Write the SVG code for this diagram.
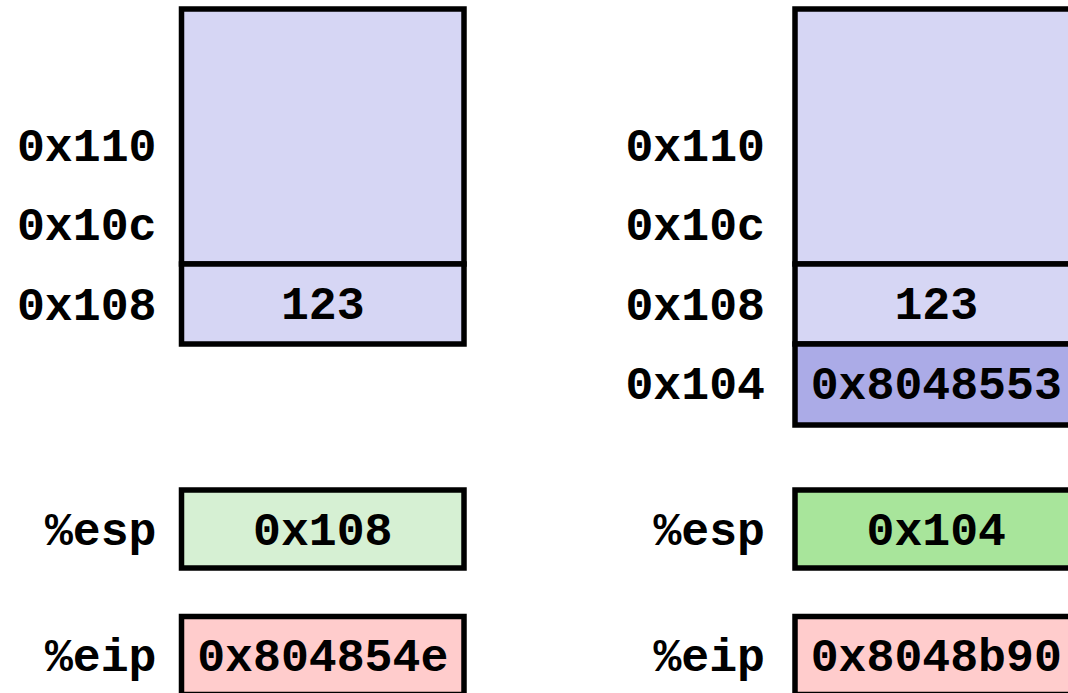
<svg xmlns="http://www.w3.org/2000/svg" width="1068" height="693" viewBox="0 0 1068 693">
<style>
.cell{stroke:#000;stroke-width:5.5}
.mem{fill:#D6D6F4}
.new{fill:#ABABE7}
.esp0{fill:#D6F0D3}
.esp1{fill:#A8E59B}
.eip{fill:#FFCCCC}
text{font-family:"Liberation Mono","Courier New",monospace;font-weight:bold;font-size:46.5px;fill:#000}
.lbl{text-anchor:end}
.val{text-anchor:middle}
</style>
<rect width="1068" height="693" fill="#fff"/>
<g id="left-stack">
  <rect class="cell mem" x="181.5" y="9" width="282.5" height="255"/>
  <rect class="cell mem" x="181.5" y="264" width="282.5" height="80"/>
  <text class="val" x="322.75" y="319">123</text>
</g>
<g id="left-labels">
  <text class="lbl" x="156.5" y="160.5">0x110</text>
  <text class="lbl" x="156.5" y="240">0x10c</text>
  <text class="lbl" x="156.5" y="319.5">0x108</text>
</g>
<g id="left-esp">
  <text class="lbl" x="156.5" y="544.5">%esp</text>
  <rect class="cell esp0" x="181.5" y="490" width="282.5" height="78"/>
  <text class="val" x="322.75" y="544.5">0x108</text>
</g>
<g id="left-eip">
  <text class="lbl" x="156.5" y="670.5">%eip</text>
  <rect class="cell eip" x="181.5" y="616.5" width="282.5" height="78"/>
  <text class="val" x="322.75" y="670.5">0x804854e</text>
</g>
<g id="right-stack">
  <rect class="cell mem" x="795" y="9" width="282.5" height="255"/>
  <rect class="cell mem" x="795" y="264" width="282.5" height="80"/>
  <rect class="cell new" x="795" y="344" width="282.5" height="81"/>
  <text class="val" x="936.25" y="319">123</text>
  <text class="val" x="936.25" y="398.5">0x8048553</text>
</g>
<g id="right-labels">
  <text class="lbl" x="765" y="160.5">0x110</text>
  <text class="lbl" x="765" y="240">0x10c</text>
  <text class="lbl" x="765" y="319.5">0x108</text>
  <text class="lbl" x="765" y="399">0x104</text>
</g>
<g id="right-esp">
  <text class="lbl" x="765" y="544.5">%esp</text>
  <rect class="cell esp1" x="795" y="490" width="282.5" height="78"/>
  <text class="val" x="936.25" y="544.5">0x104</text>
</g>
<g id="right-eip">
  <text class="lbl" x="765" y="670.5">%eip</text>
  <rect class="cell eip" x="795" y="616.5" width="282.5" height="78"/>
  <text class="val" x="936.25" y="670.5">0x8048b90</text>
</g>
<g id="connectors"></g>
</svg>
